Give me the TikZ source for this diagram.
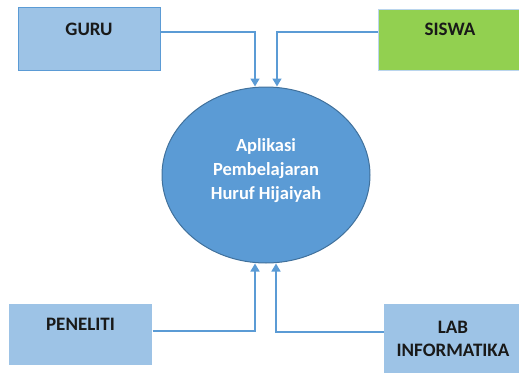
\documentclass[tikz,border=0pt]{standalone}
\usepackage{fontspec}
\setmainfont{Carlito}
\usetikzlibrary{shapes.geometric,arrows.meta}
\tikzset{>={Triangle[width=9pt,length=8pt]}}
\definecolor{boxblue}{HTML}{9DC3E6}
\definecolor{edgeblue}{HTML}{5B9BD5}
\definecolor{appblue}{HTML}{5B9BD5}
\definecolor{appedge}{HTML}{41719C}
\definecolor{boxgreen}{HTML}{92D050}
\colorlet{lightedge}{boxblue!70!white}

\tikzset{
    actor/.style={rectangle, fill=boxblue, draw=lightedge, line width=1pt, inner sep=0pt,
        font=\bfseries\fontsize{19}{23}\selectfont, text=black!90},
    flow/.style={draw=edgeblue, line width=1.5pt, ->},
}

\begin{document}
\begin{tikzpicture}[x=1pt, y=-1pt]
    \useasboundingbox (0, 0) rectangle (519, 372);

    % process
    \node[ellipse, fill=appblue, draw=appedge, line width=1pt, minimum width=208pt, minimum height=176pt, inner sep=0pt,
        label={[text=white, align=center, font=\bfseries\fontsize{18.5}{24}\selectfont, yshift=4pt]center:Aplikasi\\Pembelajaran\\Huruf Hijaiyah}]
        (app) at (266, 175) {};

    % external entities
    \node[actor, draw=edgeblue, minimum width=142pt, minimum height=63pt, text height=28pt, text depth=35pt] (guru) at (89, 38.5) {GURU};
    \node[actor, fill=boxgreen, minimum width=144pt, minimum height=61pt, text height=26pt, text depth=35pt] (siswa) at (450, 39.5) {SISWA};
    \node[actor, draw=none, minimum width=143pt, minimum height=61pt, text height=26pt, text depth=35pt] (peneliti) at (80.5, 334.5) {PENELITI};
    \node[actor, draw=none, minimum width=138pt, minimum height=70pt, align=center] (lab) at (453, 339) {LAB\\INFORMATIKA};

    % data flows
    \draw[flow] ([yshift=6.5pt]guru.east) -| ([xshift=-11pt]app.north);
    \draw[flow] ([yshift=7.5pt]siswa.west) -| ([xshift=11pt]app.north);
    \draw[flow] ([yshift=3.5pt]peneliti.east) -| ([xshift=-11pt]app.south);
    \draw[flow] ([yshift=7pt]lab.west) -| ([xshift=10pt]app.south);

\end{tikzpicture}
\end{document}
